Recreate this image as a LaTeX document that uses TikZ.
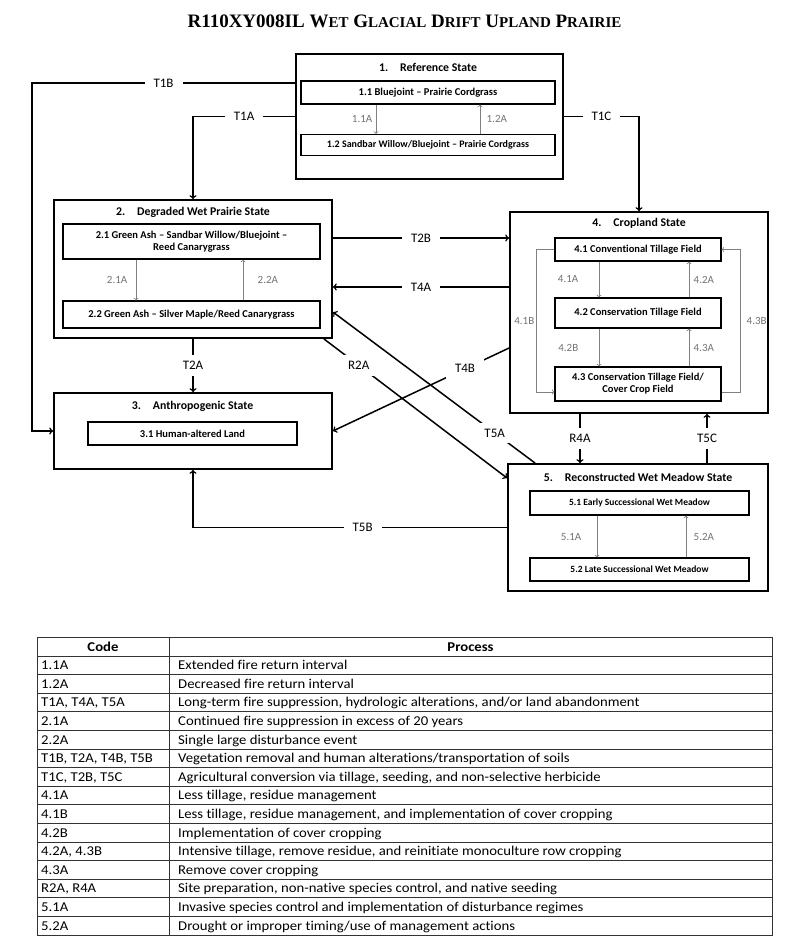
\documentclass[tikz,border=0pt]{standalone}
\usepackage{fontspec}
\setmainfont{Carlito}[Ligatures=NoCommon]
\newfontfamily\titlefont{Liberation Serif}
\newfontfamily\tablefont[FakeStretch=1.09,Ligatures=NoCommon]{Carlito}
\usepackage{tikz}
\usetikzlibrary{arrows}
\newcommand{\capsc}[2]{#1{\fontsize{15}{15}\selectfont #2}}
\tikzstyle{statebox} = [rectangle, draw=black, line width=1.8pt, inner sep=0pt]
\tikzstyle{phasebox} = [rectangle, draw=black, line width=1.1pt, inner sep=1pt,
text centered, align=center, font=\bfseries\fontsize{10.5}{12}\selectfont]
\tikzstyle{stitle} = [font=\bfseries\fontsize{11.8}{13}\selectfont]
\tikzstyle{trans} = [line width=1.5pt,->,>=to]
\tikzstyle{tlabel} = [fill=white, inner xsep=9pt, inner ysep=6pt,
font=\fontsize{13}{13}\selectfont]
\tikzstyle{parrow} = [draw=gray, line width=0.8pt,->,>=to]
\tikzstyle{plabel} = [text=gray!90!black, font=\fontsize{11}{11}\selectfont]
\tikzstyle{celltext} = [anchor=base west, inner sep=0pt, font=\tablefont\fontsize{13.5}{15}\selectfont]
\tikzstyle{tableline} = [line width=0.8pt, draw=black!80]

\begin{document}
\begin{tikzpicture}[x=1pt,y=1pt]
\useasboundingbox (0,0) rectangle (800,-949);

\node(title) at (404.5,-21){\titlefont\bfseries\fontsize{19}{19}\selectfont
R110XY008IL \capsc{W}{ET} \capsc{G}{LACIAL} \capsc{D}{RIFT} \capsc{U}{PLAND} \capsc{P}{RAIRIE}};

% states
\node(s1)[statebox, minimum width=267, minimum height=125] at (429.5,-116.5){};
\node(s2)[statebox, minimum width=278, minimum height=138] at (193,-269){};
\node(s3)[statebox, minimum width=278, minimum height=76] at (193,-431){};
\node(s4)[statebox, minimum width=258, minimum height=201] at (639,-312.5){};
\node(s5)[statebox, minimum width=260, minimum height=127] at (638,-527.5){};

\node(t1)[stitle] at (428,-67){1.\hspace{12pt}Reference State};
\node(t2)[stitle] at (193,-212){2.\hspace{12pt}Degraded Wet Prairie State};
\node(t3)[stitle] at (192.5,-406){3.\hspace{12pt}Anthropogenic State};
\node(t4)[stitle] at (639,-223){4.\hspace{12pt}Cropland State};
\node(t5)[stitle] at (638,-477){5.\hspace{12pt}Reconstructed Wet Meadow State};

% phases
\node(b11)[phasebox, minimum width=254, minimum height=23] at (428,-92.5){1.1 Bluejoint – Prairie Cordgrass};
\node(b12)[phasebox, minimum width=254, minimum height=21, font=\bfseries\fontsize{10}{12}\selectfont] at (428,-145){1.2 Sandbar Willow/Bluejoint – Prairie Cordgrass};
\node(b21)[phasebox, minimum width=257, minimum height=35] at (191.5,-241.5){2.1 Green Ash – Sandbar Willow/Bluejoint –\\Reed Canarygrass};
\node(b22)[phasebox, minimum width=257, minimum height=27] at (191.5,-314.5){2.2 Green Ash – Silver Maple/Reed Canarygrass};
\node(b31)[phasebox, minimum width=209, minimum height=23] at (192.5,-433.5){3.1 Human-altered Land};
\node(b41)[phasebox, minimum width=166, minimum height=23] at (638,-249.5){4.1 Conventional Tillage Field};
\node(b42)[phasebox, minimum width=166, minimum height=30] at (638,-313){4.2 Conservation Tillage Field};
\node(b43)[phasebox, minimum width=166, minimum height=34] at (638,-384){4.3 Conservation Tillage Field/\\Cover Crop Field};
\node(b51)[phasebox, minimum width=219, minimum height=24, font=\bfseries\fontsize{9.5}{11}\selectfont] at (639.5,-503){5.1 Early Successional Wet Meadow};
\node(b52)[phasebox, minimum width=219, minimum height=23, font=\bfseries\fontsize{9.5}{11}\selectfont] at (639.5,-569.5){5.2 Late Successional Wet Meadow};

% phase pathways
\draw[parrow]([xshift=-52]b11.south) -- node[plabel,left]{1.1A} ([xshift=-52]b12.north);
\draw[parrow]([xshift=52]b12.north) -- node[plabel,right=3pt]{1.2A} ([xshift=52]b11.south);
\draw[parrow]([xshift=-55.5]b21.south) -- node[plabel,left=5pt]{2.1A} ([xshift=-55.5]b22.north);
\draw[parrow]([xshift=51.5]b22.north) -- node[plabel,right=11pt]{2.2A} ([xshift=51.5]b21.south);
\draw[parrow]([xshift=-39]b41.south) -- node[plabel,left=17pt]{4.1A} ([xshift=-39]b42.north);
\draw[parrow]([xshift=51]b42.north) -- node[plabel,right=1pt]{4.2A} ([xshift=51]b41.south);
\draw[parrow]([xshift=-39]b42.south) -- node[plabel,left=17pt]{4.2B} ([xshift=-39]b43.north);
\draw[parrow]([xshift=51]b43.north) -- node[plabel,right=1pt]{4.3A} ([xshift=51]b42.south);
\draw[parrow]([xshift=-42.5]b51.south) -- node[plabel,left=12pt]{5.1A} ([xshift=-42.5]b52.north);
\draw[parrow]([xshift=46.5]b52.north) -- node[plabel,right=4pt]{5.2A} ([xshift=46.5]b51.south);
\coordinate(c41b) at (536,-392);
\coordinate(c43b) at (740,-392);
\draw[parrow](b41.west) -| node[plabel,left=-2pt,pos=0.75]{4.1B} (c41b) -- ([yshift=-8]b43.west);
\draw[parrow]([yshift=-8]b43.east) -- (c43b) |- node[plabel,right=3pt,pos=0.25]{4.3B} (b41.east);

% transitions
\coordinate(c1b) at (32,-83);
\draw[trans]([yshift=33.5]s1.west) -- node[tlabel]{T1B} (c1b) |- (s3.west);
\draw[trans](s1.west) -| node[tlabel,pos=0.25]{T1A} (s2.north);
\draw[trans](s1.east) -| node[tlabel,pos=0.25]{T1C} (s4.north);
\draw[trans]([yshift=31]s2.east) -- node[tlabel]{T2B} ([yshift=31]s2.east -| s4.west);
\draw[trans]([yshift=25.5]s4.west) -- node[tlabel]{T4A} ([yshift=25.5]s4.west -| s2.east);
\draw[trans](s2.south) -- node[tlabel]{T2A} (s3.north);
\draw[trans]([yshift=-35.5]s4.west) -- node[tlabel,pos=0.25]{T4B} (s3.east);
\draw[trans]([xshift=-9]s2.south east) -- node[tlabel,pos=0.19]{R2A} ([yshift=-15]s5.north west);
\draw[trans]([xshift=28]s5.north west) -- node[tlabel,pos=0.2]{T5A} ([yshift=-43]s2.east);
\draw[trans](s5.west) -| node[tlabel,pos=0.23]{T5B} (s3.south);
\draw[trans]([xshift=-59]s4.south) -- node[tlabel]{R4A} ([xshift=-59]s4.south |- s5.north);
\draw[trans]([xshift=69]s5.north) -- node[tlabel]{T5C} ([xshift=69]s5.north |- s4.south);

% table
\draw[tableline] (37,-637) rectangle (772,-935);
\draw[tableline] (169,-637) -- (169,-935);
\foreach \i in {0,...,14}
  \draw[tableline] (37,{-656-18.6*\i}) -- (772,{-656-18.6*\i});
\node(hcode)[font=\tablefont\bfseries\fontsize{13.5}{15}\selectfont, anchor=base, inner sep=0pt] at (103,-651){Code};
\node(hproc)[font=\tablefont\bfseries\fontsize{13.5}{15}\selectfont, anchor=base, inner sep=0pt] at (470.5,-651){Process};
\foreach \code/\proc [count=\i] in {
  {1.1A}/{Extended fire return interval},
  {1.2A}/{Decreased fire return interval},
  {T1A, T4A, T5A}/{Long-term fire suppression, hydrologic alterations, and/or land abandonment},
  {2.1A}/{Continued fire suppression in excess of 20 years},
  {2.2A}/{Single large disturbance event},
  {T1B, T2A, T4B, T5B}/{Vegetation removal and human alterations/transportation of soils},
  {T1C, T2B, T5C}/{Agricultural conversion via tillage, seeding, and non-selective herbicide},
  {4.1A}/{Less tillage, residue management},
  {4.1B}/{Less tillage, residue management, and implementation of cover cropping},
  {4.2B}/{Implementation of cover cropping},
  {4.2A, 4.3B}/{Intensive tillage, remove residue, and reinitiate monoculture row cropping},
  {4.3A}/{Remove cover cropping},
  {R2A, R4A}/{Site preparation, non-native species control, and native seeding},
  {5.1A}/{Invasive species control and implementation of disturbance regimes},
  {5.2A}/{Drought or improper timing/use of management actions}}{
  \node(code\i)[celltext] at (41,{-656-18.6*\i+4.9}){\code};
  \node(proc\i)[celltext] at (178,{-656-18.6*\i+4.9}){\proc};
}
\end{tikzpicture}
\end{document}
